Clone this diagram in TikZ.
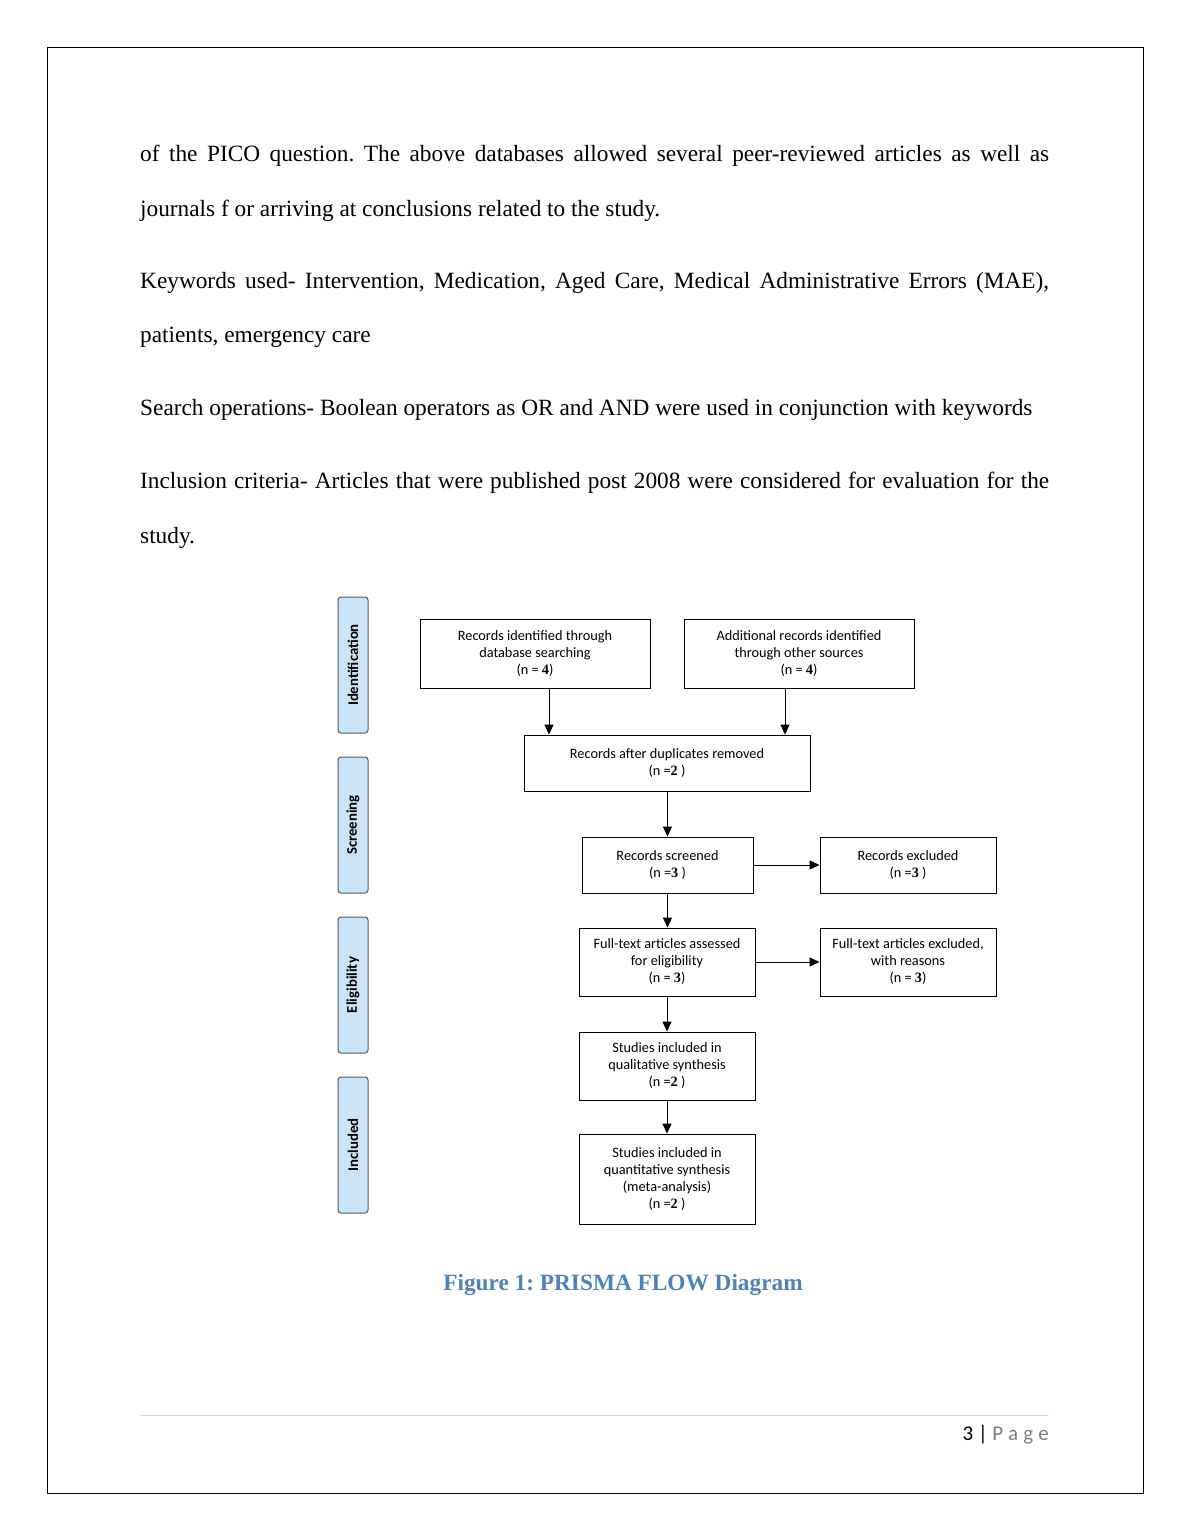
\documentclass[tikz,border=0pt]{standalone}
\usepackage{fontspec}
\setmainfont{Liberation Serif}
\newfontfamily\calib{Carlito}
\newfontfamily\serifd{Liberation Serif}
\usetikzlibrary{arrows.meta}
\definecolor{sidefill}{HTML}{CCE4F7}
\definecolor{sidedraw}{HTML}{555B60}
\definecolor{capblue}{HTML}{4F81BD}
\definecolor{pagegray}{HTML}{7F7F7F}
\newcommand{\nd}[1]{{\serifd\bfseries #1}}
\frenchspacing
\begin{document}
\begin{tikzpicture}[x=1pt,y=-1pt,
  box/.style={draw, line width=0.9pt, align=center, inner sep=0pt,
    font=\calib\fontsize{14.3}{17}\selectfont},
  side/.style={draw=sidedraw, fill=sidefill, line width=1pt, rounded corners=3pt,
    rotate=90, minimum width=136pt, minimum height=30pt, inner sep=0pt,
    font=\calib\bfseries\fontsize{14.8}{16}\selectfont},
  arr/.style={line width=0.9pt, -{Triangle[length=10pt,width=9pt]}},
  body/.style={anchor=base west, inner sep=0pt, font=\fontsize{23.3}{28}\selectfont}]
\useasboundingbox (0,0) rectangle (1190,1540);
\fill[white] (0,0) rectangle (1190,1540);
\draw[line width=1pt] (47,47) rectangle (1143,1493);

% body text
\node[body] (t1) at (140,161) {\makebox[909pt][s]{of the PICO question. The above databases allowed several peer-reviewed articles as well as}};
\node[body] (t2) at (140,216) {journals f or arriving at conclusions related to the study.};
\node[body] (t3) at (140,288) {\makebox[909pt][s]{Keywords used- Intervention, Medication, Aged Care, Medical Administrative Errors (MAE),}};
\node[body] (t4) at (140,342) {patients, emergency care};
\node[body] (t5) at (140,415) {Search operations- Boolean operators as OR and AND were used in conjunction with keywords};
\node[body] (t6) at (140,488) {\makebox[909pt][s]{Inclusion criteria- Articles that were published post 2008 were considered for evaluation for the}};
\node[body] (t7) at (140,543) {study.};

% side labels
\node[side] (s1) at (353,665) {Identification};
\node[side] (s2) at (353,825) {Screening};
\node[side] (s3) at (353,985) {Eligibility};
\node[side] (s4) at (353,1145) {Included};

% boxes
\node[box, minimum width=230pt, minimum height=69pt] (a) at (535,653.5) {Records identified through\\database searching\\(n = \nd{4})};
\node[box, minimum width=230pt, minimum height=69pt] (b) at (799,653.5) {Additional records identified\\through other sources\\(n = \nd{4})};
\node[box, minimum width=286pt, minimum height=56pt] (c) at (667,763) {Records after duplicates removed\\(n =\nd{2} )};
\node[box, minimum width=171pt, minimum height=56pt] (d) at (667.5,865) {Records screened\\(n =\nd{3} )};
\node[box, minimum width=176pt, minimum height=56pt] (e) at (908,865) {Records excluded\\(n =\nd{3} )};
\node[box, minimum width=176pt, minimum height=68pt] (f) at (667,962) {Full-text articles assessed\\for eligibility\\(n = \nd{3})};
\node[box, minimum width=176pt, minimum height=68pt] (g) at (908,962) {Full-text articles excluded,\\with reasons\\(n = \nd{3})};
\node[box, minimum width=176pt, minimum height=68pt] (h) at (667,1066) {Studies included in\\qualitative synthesis\\(n =\nd{2} )};
\node[box, minimum width=176pt, minimum height=90pt] (i) at (667,1179) {Studies included in\\quantitative synthesis\\(meta-analysis)\\(n =\nd{2} )};

% connectors
\draw[arr] (a.south -| 549,0) -- (c.north -| 549,0);
\draw[arr] (b.south -| 785,0) -- (c.north -| 785,0);
\draw[arr] (c.south -| d) -- (d.north);
\draw[arr] (d.east) -- (e.west);
\draw[arr] (d.south) -- (f.north -| d);
\draw[arr] (f.east) -- (g.west);
\draw[arr] (f.south) -- (h.north);
\draw[arr] (h.south) -- (i.north);

% caption
\node[font=\bfseries\fontsize{23.3}{28}\selectfont, text=capblue, inner sep=0pt] (cap) at (623,1285) {Figure 1: PRISMA FLOW Diagram};

% footer
\draw[line width=0.6pt, draw=black!15] (140,1415) -- (1049,1415);
\node[anchor=base east, inner sep=0pt, font=\calib\fontsize{21}{25}\selectfont] (pg) at (1049,1440) {3 | {\color{pagegray}\addfontfeature{LetterSpace=25}Page}};
\end{tikzpicture}
\end{document}
